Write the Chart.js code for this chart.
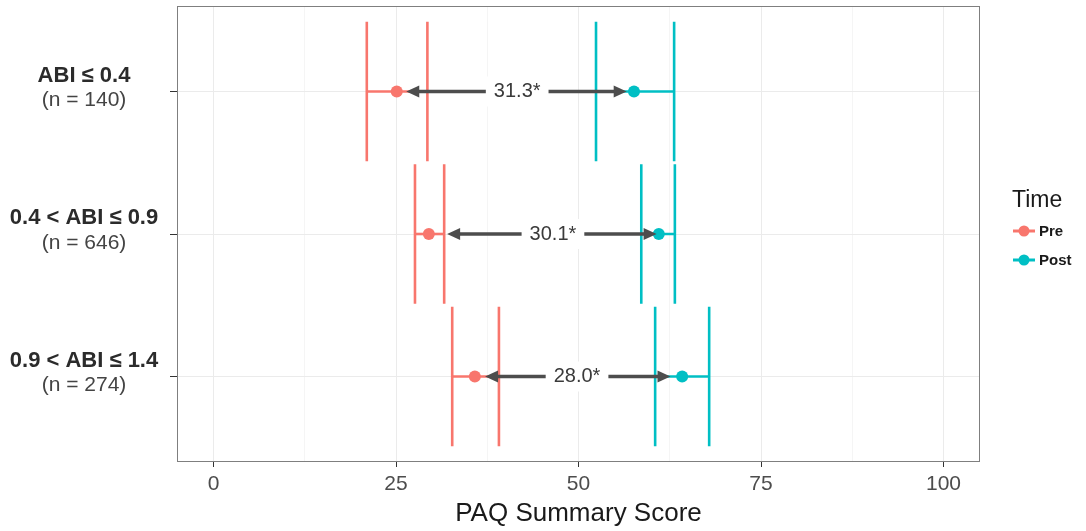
<!DOCTYPE html>
<html>
<head>
<meta charset="utf-8">
<script src="https://cdn.jsdelivr.net/npm/chart.js@4.4.1/dist/chart.umd.min.js"></script>
<style>
  html, body { margin: 0; padding: 0; background: #ffffff; }
  #wrap { position: relative; width: 1086px; height: 531px; }
</style>
</head>
<body>
<div id="wrap"><canvas id="c" width="1086" height="531"></canvas></div>
<script>
// ---- data ----
const categories = ["ABI \u2264 0.4", "0.4 < ABI \u2264 0.9", "0.9 < ABI \u2264 1.4"];
const sampleSizes = ["(n = 140)", "(n = 646)", "(n = 274)"];
const preMean  = [25.1, 29.5, 35.8];
const preLow   = [21.0, 27.6, 32.7];
const preHigh  = [29.3, 31.6, 39.1];
const postMean = [57.6, 61.0, 64.2];
const postLow  = [52.4, 58.6, 60.5];
const postHigh = [63.1, 63.2, 67.9];
const arrowFrom = [26.4, 32.0, 37.2];
const arrowTo   = [56.6, 60.7, 62.6];
const diffLabels = ["31.3*", "30.1*", "28.0*"];
const diffLabelPos = [41.6, 46.5, 49.8];
const xTickValues = [0, 25, 50, 75, 100];
const xMinorValues = [12.5, 37.5, 62.5, 87.5];
const seriesNames = ["Pre", "Post"];

// ---- styles ----
const PRE = "#F8766D", POST = "#00BFC4";
const FONT = "'Liberation Sans', Arial, sans-serif";
const CAP_HALF = 0.49;

const datasets = [];
datasets.push({ label: seriesNames[0], type: "scatter", order: 0,
  data: preMean.map((v, i) => ({ x: v, y: i + 1 })),
  pointRadius: 6, pointBackgroundColor: PRE, pointBorderWidth: 0, showLine: false });
datasets.push({ label: seriesNames[1], type: "scatter", order: 0,
  data: postMean.map((v, i) => ({ x: v, y: i + 1 })),
  pointRadius: 6, pointBackgroundColor: POST, pointBorderWidth: 0, showLine: false });

function addErrorBar(lo, hi, y, color) {
  const base = { type: "line", order: 1, borderColor: color, borderWidth: 2.6,
    pointRadius: 0, fill: false, tension: 0, label: "_err" };
  datasets.push(Object.assign({}, base, { data: [{ x: lo, y: y }, { x: hi, y: y }] }));
  datasets.push(Object.assign({}, base, { data: [{ x: lo, y: y - CAP_HALF }, { x: lo, y: y + CAP_HALF }] }));
  datasets.push(Object.assign({}, base, { data: [{ x: hi, y: y - CAP_HALF }, { x: hi, y: y + CAP_HALF }] }));
}
for (let i = 0; i < categories.length; i++) {
  addErrorBar(preLow[i], preHigh[i], i + 1, PRE);
  addErrorBar(postLow[i], postHigh[i], i + 1, POST);
}

const decorPlugin = {
  id: "decor",
  afterDatasetsDraw(chart) {
    const ctx = chart.ctx, xs = chart.scales.x, ys = chart.scales.y;
    ctx.save();
    const col = "#4d4d4d";
    for (let i = 0; i < categories.length; i++) {
      const y = ys.getPixelForValue(i + 1);
      const x1 = xs.getPixelForValue(arrowFrom[i]);
      const x2 = xs.getPixelForValue(arrowTo[i]);
      const L = 13, W = 6;
      ctx.strokeStyle = col; ctx.fillStyle = col; ctx.lineWidth = 3.5;
      ctx.beginPath(); ctx.moveTo(x1 + L - 1, y); ctx.lineTo(x2 - L + 1, y); ctx.stroke();
      ctx.beginPath(); ctx.moveTo(x1, y); ctx.lineTo(x1 + L, y - W); ctx.lineTo(x1 + L, y + W); ctx.closePath(); ctx.fill();
      ctx.beginPath(); ctx.moveTo(x2, y); ctx.lineTo(x2 - L, y - W); ctx.lineTo(x2 - L, y + W); ctx.closePath(); ctx.fill();
      const lx = xs.getPixelForValue(diffLabelPos[i]);
      ctx.font = "20px " + FONT;
      const tw = ctx.measureText(diffLabels[i]).width;
      ctx.fillStyle = "#ffffff";
      ctx.fillRect(lx - tw / 2 - 8, y - 15, tw + 16, 30);
      ctx.fillStyle = "#3a3a3a";
      ctx.textAlign = "center"; ctx.textBaseline = "middle";
      ctx.fillText(diffLabels[i], lx, y);
    }
    ctx.restore();
  },
  afterDraw(chart) {
    const ctx = chart.ctx, a = chart.chartArea, ys = chart.scales.y;
    ctx.save();
    ctx.strokeStyle = "#7f7f7f"; ctx.lineWidth = 1;
    ctx.strokeRect(a.left + 0.5, a.top + 0.5, a.right - a.left - 1, a.bottom - a.top - 1);
    ctx.textAlign = "center"; ctx.textBaseline = "middle";
    for (let i = 0; i < categories.length; i++) {
      const y = ys.getPixelForValue(i + 1);
      const cx = a.left - 93;
      ctx.fillStyle = "#2b2b2b";
      ctx.font = "bold 22px " + FONT;
      ctx.fillText(categories[i], cx, y - 16);
      ctx.fillStyle = "#444444";
      ctx.font = "21px " + FONT;
      ctx.fillText(sampleSizes[i], cx, y + 9);
    }
    const lx = a.right + 32;
    ctx.textAlign = "left";
    ctx.fillStyle = "#1a1a1a";
    ctx.font = "23px " + FONT;
    ctx.fillText("Time", lx, 201);
    const cols = [PRE, POST];
    for (let k = 0; k < seriesNames.length; k++) {
      const ky = 231 + k * 29;
      ctx.strokeStyle = cols[k]; ctx.lineWidth = 3;
      ctx.beginPath(); ctx.moveTo(lx + 1, ky); ctx.lineTo(lx + 23, ky); ctx.stroke();
      ctx.fillStyle = cols[k];
      ctx.beginPath(); ctx.arc(lx + 12, ky, 5.5, 0, Math.PI * 2); ctx.fill();
      ctx.fillStyle = "#1a1a1a";
      ctx.font = "bold 15px " + FONT;
      ctx.fillText(seriesNames[k], lx + 27, ky + 1);
    }
    ctx.restore();
  }
};

new Chart(document.getElementById("c"), {
  type: "scatter",
  data: { datasets: datasets },
  plugins: [decorPlugin],
  options: {
    responsive: false,
    animation: false,
    events: [],
    layout: { padding: { top: 5, right: 106, left: 0, bottom: 0 } },
    plugins: { legend: { display: false }, tooltip: { enabled: false } },
    scales: {
      x: {
        type: "linear", min: -5, max: 105,
        afterBuildTicks(s) {
          s.ticks = xTickValues.concat(xMinorValues).sort((p, q) => p - q).map(v => ({ value: v }));
        },
        afterFit(s) { s.height = 69; },
        ticks: {
          autoSkip: false, maxRotation: 0, padding: 5,
          color: "#4d4d4d", font: { family: FONT, size: 21 },
          callback: v => (xTickValues.includes(v) ? String(v) : "")
        },
        grid: {
          drawTicks: true, tickLength: 5,
          color: c => (c.tick && xTickValues.includes(c.tick.value) ? "#ebebeb" : "#f5f5f5"),
          tickColor: c => (c.tick && xTickValues.includes(c.tick.value) ? "#333333" : "rgba(0,0,0,0)"),
          lineWidth: 1
        },
        border: { display: false },
        title: { display: true, text: "PAQ Summary Score", color: "#1a1a1a",
          font: { family: FONT, size: 26 }, padding: { top: 0, bottom: 2 } }
      },
      y: {
        type: "linear", min: 0.4, max: 3.6, reverse: true,
        afterBuildTicks(s) { s.ticks = categories.map((c, i) => ({ value: i + 1 })); },
        afterFit(s) { s.width = 177; },
        ticks: { display: false },
        grid: { drawTicks: true, tickLength: 7, color: "#ebebeb", tickColor: "#333333", lineWidth: 1 },
        border: { display: false }
      }
    }
  }
});
</script>
</body>
</html>
